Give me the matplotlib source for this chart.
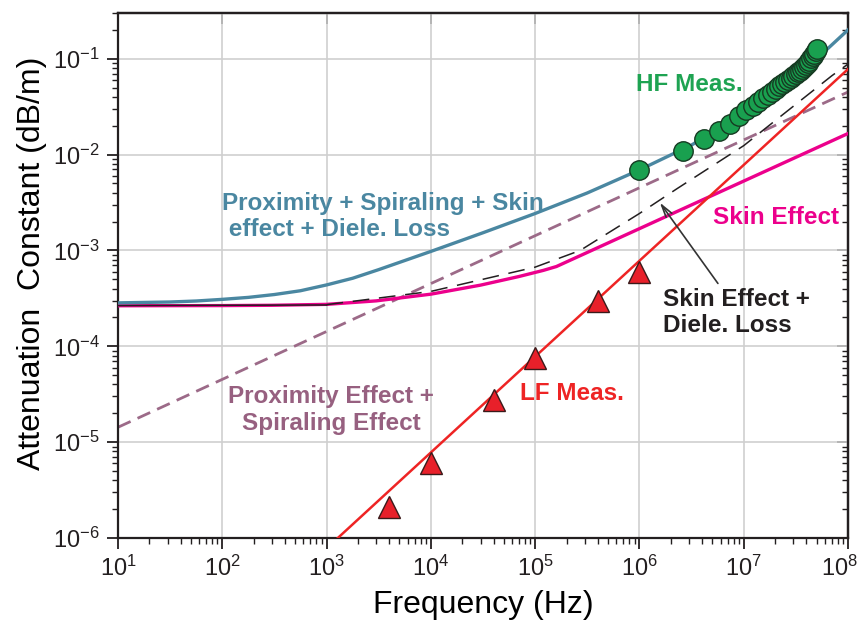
import matplotlib
matplotlib.use('Agg')
import matplotlib.pyplot as plt
import matplotlib.transforms as mtransforms
from matplotlib.ticker import LogLocator, FixedLocator, NullLocator, NullFormatter

plt.rcParams['font.family'] = 'Liberation Sans'
plt.rcParams['mathtext.fontset'] = 'custom'
plt.rcParams['mathtext.rm'] = 'Liberation Sans'
plt.rcParams['mathtext.it'] = 'Liberation Sans:italic'
plt.rcParams['mathtext.bf'] = 'Liberation Sans:bold'
plt.rcParams['axes.unicode_minus'] = False
plt.rcParams['lines.scale_dashes'] = False

# proximity + spiraling + skin + dielectric loss (total model)
total_f = [1e1, 3.16e1, 5.62e1, 1e2, 1.78e2, 3.16e2, 5.62e2, 1e3, 1.78e3, 3.16e3, 1e4, 3.16e4,
           1e5, 3.16e5, 1e6, 3.16e6, 5.62e6, 1e7, 1.78e7, 3.16e7, 5.62e7, 1e8]
total_a = [2.84e-4, 2.90e-4, 2.97e-4, 3.09e-4, 3.24e-4, 3.47e-4, 3.80e-4, 4.37e-4, 5.13e-4,
           6.31e-4, 9.77e-4, 1.53e-3, 2.43e-3, 3.98e-3, 6.92e-3, 1.26e-2, 1.82e-2, 2.75e-2,
           4.22e-2, 6.61e-2, 1.12e-1, 2.0e-1]

# skin effect only
skin_f = [1e1, 1e2, 3e2, 1e3, 3e3, 1e4, 3e4, 7e4, 1.2e5, 1.6e5, 1e8]
skin_a = [2.65e-4, 2.66e-4, 2.68e-4, 2.74e-4, 2.98e-4, 3.5e-4, 4.35e-4, 5.35e-4, 6.2e-4, 6.8e-4, 1.66e-2]

# skin effect + dielectric loss
skdl_lo_f = [1e1, 1e3]
skdl_lo_a = [2.66e-4, 2.7e-4]
skdl_f = [1e3, 1e4, 1e5, 2.7e5, 1e6, 2.3e6, 1e7, 1.9e7, 7e7, 1e8]
skdl_a = [2.72e-4, 3.74e-4, 6.7e-4, 1.0e-3, 2.43e-3, 4.42e-3, 1.24e-2, 2.16e-2, 6.65e-2, 8.8e-2]

# proximity + spiraling effect
prox_f = [1e1, 1e8]
prox_a = [1.43e-5, 4.5e-2]

# LF fit line and LF measurement
lffit_f = [1e3, 1e8]
lffit_a = [7.8e-7, 7.8e-2]
lf_f = [4e3, 1e4, 4e4, 1e5, 4e5, 1e6]
lf_a = [2.1e-6, 6.0e-6, 2.75e-5, 7.6e-5, 3.0e-4, 5.9e-4]

# HF measurement (MHz)
hf_mhz = [1.0, 2.6, 4.2, 5.8, 7.4, 9.0, 10.6, 12.2, 13.8, 15.4, 17.0, 18.6, 20.2, 21.8, 23.4, 25.0,
          26.6, 28.2, 29.8, 31.4, 33.0, 34.6, 36.2, 37.8, 39.4, 41.0, 42.6, 44.2, 45.8, 47.4, 49.0, 50.6]
hf_a = [6.9e-3, 1.10e-2, 1.44e-2, 1.77e-2, 2.11e-2, 2.55e-2, 2.91e-2, 3.21e-2, 3.55e-2, 3.89e-2,
        4.20e-2, 4.53e-2, 4.83e-2, 5.15e-2, 5.46e-2, 5.75e-2, 6.05e-2, 6.35e-2, 6.64e-2, 6.93e-2,
        7.23e-2, 7.50e-2, 7.89e-2, 8.26e-2, 8.63e-2, 9.02e-2, 9.55e-2, 0.101, 0.107, 0.1135, 0.120, 0.127]
hf_f = [m * 1e6 for m in hf_mhz]

x_decades = [1e1, 1e2, 1e3, 1e4, 1e5, 1e6, 1e7, 1e8]
y_decades = [1e-6, 1e-5, 1e-4, 1e-3, 1e-2, 1e-1]

teal = '#4a87a1'
magenta = '#ec008c'
red = '#ee2424'
green = '#19a04f'
mauve = '#9c6a88'
dark = '#231f20'

fig = plt.figure(figsize=(8.63, 6.24), dpi=100)
ax = fig.add_axes([0.1367, 0.1378, 0.8459, 0.8413])
ax.set_xscale('log')
ax.set_yscale('log')
ax.set_xlim(1e1, 1e8)
ax.set_ylim(1e-6, 0.3)

ax.grid(which='major', color='#cfcfcf', lw=1.2)
ax.set_axisbelow(True)

ax.plot(prox_f, prox_a, color=mauve, lw=2.0, dashes=(10, 5.5), zorder=2)
ax.plot(skin_f, skin_a, color=magenta, lw=2.4, zorder=3)
ax.plot(skdl_lo_f, skdl_lo_a, color=dark, lw=1.1, zorder=4)
ax.plot(skdl_f, skdl_a, color=dark, lw=1.1, dashes=(12, 7), zorder=4)
ax.plot(total_f, total_a, color=teal, lw=2.4, zorder=5)
ax.plot(lffit_f, lffit_a, color=red, lw=1.8, zorder=6)
ax.plot(lf_f, lf_a, ls='none', marker='^', ms=16, mfc='#e8202a', mec='#3a1a1a', mew=1.0, zorder=7)
ax.plot(hf_f, hf_a, ls='none', marker='o', ms=14, mfc=green, mec='#163a22', mew=1.0, zorder=8)

tfont = dict(fontsize=17.5, fontweight='bold')
ax.text(1e2, 2.26e-3, 'Proximity + Spiraling + Skin\n effect + Diele. Loss', color=teal,
        ha='left', va='center', **tfont)
ax.text(9.25e5, 5.45e-2, 'HF Meas.', color='#1ea352', ha='left', va='center', **tfont)
ax.text(5.04e6, 2.22e-3, 'Skin Effect', color=magenta, ha='left', va='center', **tfont)
ax.text(1.68e6, 2.25e-4, 'Skin Effect +\nDiele. Loss', color=dark, ha='left', va='center', **tfont)
ax.text(7.15e4, 3.24e-5, 'LF Meas.', color=red, ha='left', va='center', **tfont)
ax.text(1.1e3, 2.18e-5, 'Proximity Effect +\nSpiraling Effect', color='#976080', ha='center',
        va='center', multialignment='center', **tfont)
ax.annotate('', xy=(1.57e6, 3.16e-3), xytext=(5.66e6, 4.53e-4),
            arrowprops=dict(arrowstyle='->,head_length=0.9,head_width=0.25', color='#333333',
                            lw=1.2, shrinkA=0, shrinkB=0), zorder=9)

ax.xaxis.set_major_locator(FixedLocator(x_decades))
ax.yaxis.set_major_locator(FixedLocator(y_decades))
for axis in (ax.xaxis, ax.yaxis):
    axis.set_minor_locator(LogLocator(base=10, subs=range(2, 10), numticks=20))
    axis.set_minor_formatter(NullFormatter())

ax.tick_params(which='major', direction='out', length=8, width=1.3, labelsize=17, colors=dark)
ax.tick_params(which='minor', direction='out', length=4.5, width=1.0, colors=dark)
ax.tick_params(axis='x', which='major', pad=5)
ax.tick_params(axis='y', which='major', pad=5)
for s in ax.spines.values():
    s.set_linewidth(1.6)
    s.set_color(dark)

# keep the last x label inside the figure
last = ax.xaxis.get_major_ticks()[-1].label1
last.set_transform(last.get_transform() + mtransforms.ScaledTranslation(-8 / 100, 0, fig.dpi_scale_trans))

top = ax.secondary_xaxis('top')
top.xaxis.set_major_locator(FixedLocator(x_decades))
top.xaxis.set_minor_locator(NullLocator())
top.xaxis.set_major_formatter(NullFormatter())
top.tick_params(direction='in', length=8, width=1.3, colors=dark)
top.spines['top'].set_linewidth(1.6)

right = ax.secondary_yaxis('right')
right.yaxis.set_major_locator(FixedLocator(y_decades))
right.yaxis.set_minor_locator(LogLocator(base=10, subs=range(2, 10), numticks=20))
right.yaxis.set_major_formatter(NullFormatter())
right.yaxis.set_minor_formatter(NullFormatter())
right.tick_params(which='major', direction='in', length=8, width=1.3, colors=dark)
right.tick_params(which='minor', direction='in', length=4.5, width=1.0, colors=dark)
right.spines['right'].set_linewidth(1.6)

ax.set_xlabel('Frequency (Hz)', fontsize=23)
ax.set_ylabel('Attenuation  Constant (dB/m)', fontsize=23)
ax.xaxis.set_label_coords(0.5, -0.128)
ax.xaxis.label.set_va('center')
ax.yaxis.set_label_coords(-0.118, 0.524)
ax.yaxis.label.set_va('center')

fig.savefig('out.png', dpi=100)
